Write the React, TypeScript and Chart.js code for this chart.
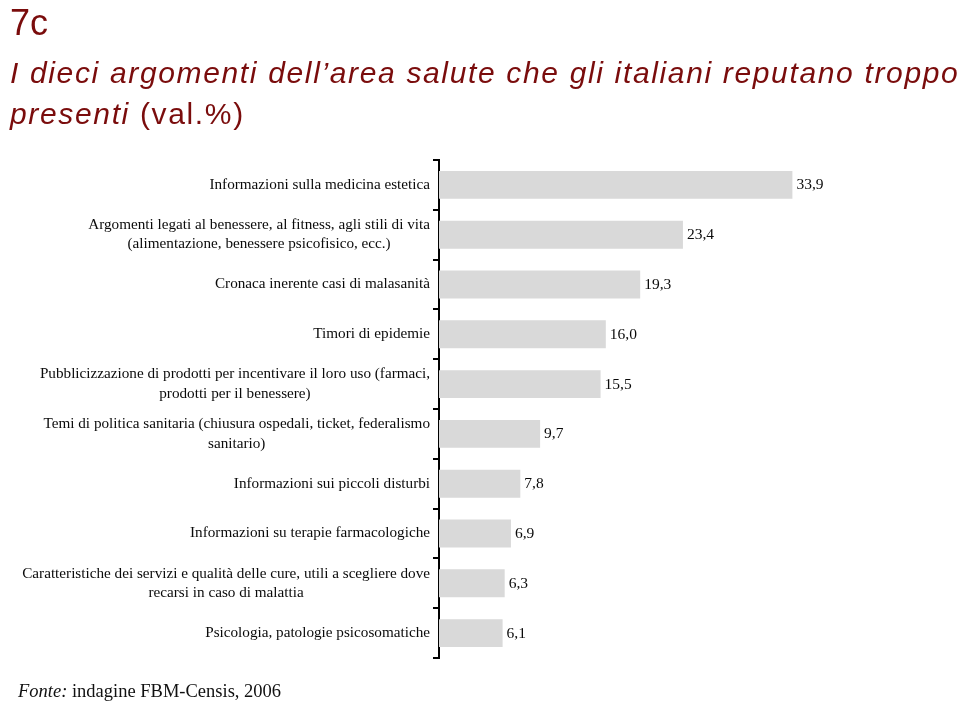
import React, { useEffect, useRef } from "react";
import { Chart, registerables } from "chart.js";

Chart.register(...registerables);

// ---- data ----
const categories: string[][] = [
  ["Informazioni sulla medicina estetica"],
  ["Argomenti legati al benessere, al fitness, agli stili di vita", "(alimentazione, benessere psicofisico, ecc.)"],
  ["Cronaca inerente casi di malasanità"],
  ["Timori di epidemie"],
  ["Pubblicizzazione di prodotti per incentivare il loro uso (farmaci,", "prodotti per il benessere)"],
  ["Temi di politica sanitaria (chiusura ospedali, ticket, federalismo", "sanitario)"],
  ["Informazioni sui piccoli disturbi"],
  ["Informazioni su terapie farmacologiche"],
  ["Caratteristiche dei servizi e qualità delle cure, utili a scegliere dove", "recarsi in caso di malattia"],
  ["Psicologia, patologie psicosomatiche"],
];
const values: number[] = [33.9, 23.4, 19.3, 16.0, 15.5, 9.7, 7.8, 6.9, 6.3, 6.1];
const xMin = 0;
const xMax = 40;

const titleNumber = "7c";
const titleLine1 = "I dieci argomenti dell\u2019area salute che gli italiani reputano troppo";
const titleLine2Italic = "presenti";
const titleLine2Normal = " (val.%)";
const sourceItalic = "Fonte:";
const sourceText = " indagine FBM-Censis, 2006";

const fmt = (v: number) => v.toFixed(1).replace(".", ",");

const SERIF = '"Liberation Serif", "Times New Roman", serif';
const SANS = '"Liberation Sans", Arial, sans-serif';
const RED = "#7a0c0c";

const labelPlugin = {
  id: "customLabels",
  afterDatasetsDraw(chart: any) {
    const ctx = chart.ctx;
    const yScale = chart.scales.y;
    const meta = chart.getDatasetMeta(0);
    ctx.save();
    // category labels
    ctx.fillStyle = "#0a0a0a";
    ctx.font = `15.2px ${SERIF}`;
    ctx.textBaseline = "middle";
    const xRight = chart.chartArea.left - 9;
    const gap = 19.5;
    categories.forEach((lines, i) => {
      const y = yScale.getPixelForValue(i);
      if (lines.length === 1) {
        ctx.textAlign = "right";
        ctx.fillText(lines[0], xRight, y);
      } else {
        const y0 = y - (gap * (lines.length - 1)) / 2;
        const w1 = ctx.measureText(lines[0]).width;
        ctx.textAlign = "right";
        ctx.fillText(lines[0], xRight, y0);
        ctx.textAlign = "center";
        for (let k = 1; k < lines.length; k++) {
          ctx.fillText(lines[k], xRight - w1 / 2, y0 + gap * k);
        }
      }
    });
    // value labels
    ctx.font = `15.5px ${SERIF}`;
    ctx.textAlign = "left";
    meta.data.forEach((bar: any, i: number) => {
      ctx.fillText(fmt(values[i]), bar.x + 4, bar.y + 0.5);
    });
    ctx.restore();
  },
};

export default function App() {
  const ref = useRef<HTMLCanvasElement | null>(null);

  useEffect(() => {
    if (!ref.current) return;
    const chart = new Chart(ref.current, {
      type: "bar",
      data: {
        labels: categories.map((c) => c.join(" ")),
        datasets: [
          {
            data: values,
            backgroundColor: "#d9d9d9",
            borderWidth: 0,
            barPercentage: 0.56,
            categoryPercentage: 1,
          },
        ],
      },
      options: {
        indexAxis: "y",
        responsive: false,
        animation: false,
        layout: { padding: { top: 160, bottom: 54, left: 0, right: 104 } },
        scales: {
          x: { display: false, min: xMin, max: xMax },
          y: {
            position: "left",
            grid: {
              display: true,
              drawOnChartArea: false,
              drawTicks: true,
              tickLength: 6,
              color: "#000",
              lineWidth: 2,
              offset: true,
            },
            border: { display: true, color: "#000", width: 2 },
            ticks: { display: false },
            afterFit: (s: any) => {
              s.width = 439;
            },
          },
        },
        plugins: {
          legend: { display: false },
          tooltip: { enabled: false },
          title: { display: false },
        },
      } as any,
      plugins: [labelPlugin],
    });
    return () => chart.destroy();
  }, []);

  return (
    <div style={{ position: "absolute", left: 0, top: 0, width: 960, height: 712, background: "#fff", overflow: "hidden" }}>
      <canvas ref={ref} width={960} height={712} style={{ position: "absolute", left: 0, top: 0 }} />
      <div style={{ position: "absolute", left: 10, top: 5, font: `36px ${SANS}`, lineHeight: "36px", color: RED, whiteSpace: "nowrap" }}>
        {titleNumber}
      </div>
      <div style={{ position: "absolute", left: 10, top: 58, font: `italic 30px ${SANS}`, lineHeight: "30px", color: RED, whiteSpace: "nowrap", letterSpacing: "1.65px" }}>
        {titleLine1}
      </div>
      <div style={{ position: "absolute", left: 10, top: 99, font: `30px ${SANS}`, lineHeight: "30px", color: RED, whiteSpace: "nowrap", letterSpacing: "1.65px" }}>
        <span style={{ fontStyle: "italic" }}>{titleLine2Italic}</span>
        {titleLine2Normal}
      </div>
      <div style={{ position: "absolute", left: 18, top: 682, font: `18.5px ${SERIF}`, lineHeight: "18.5px", color: "#111", whiteSpace: "nowrap" }}>
        <span style={{ fontStyle: "italic" }}>{sourceItalic}</span>
        {sourceText}
      </div>
    </div>
  );
}
